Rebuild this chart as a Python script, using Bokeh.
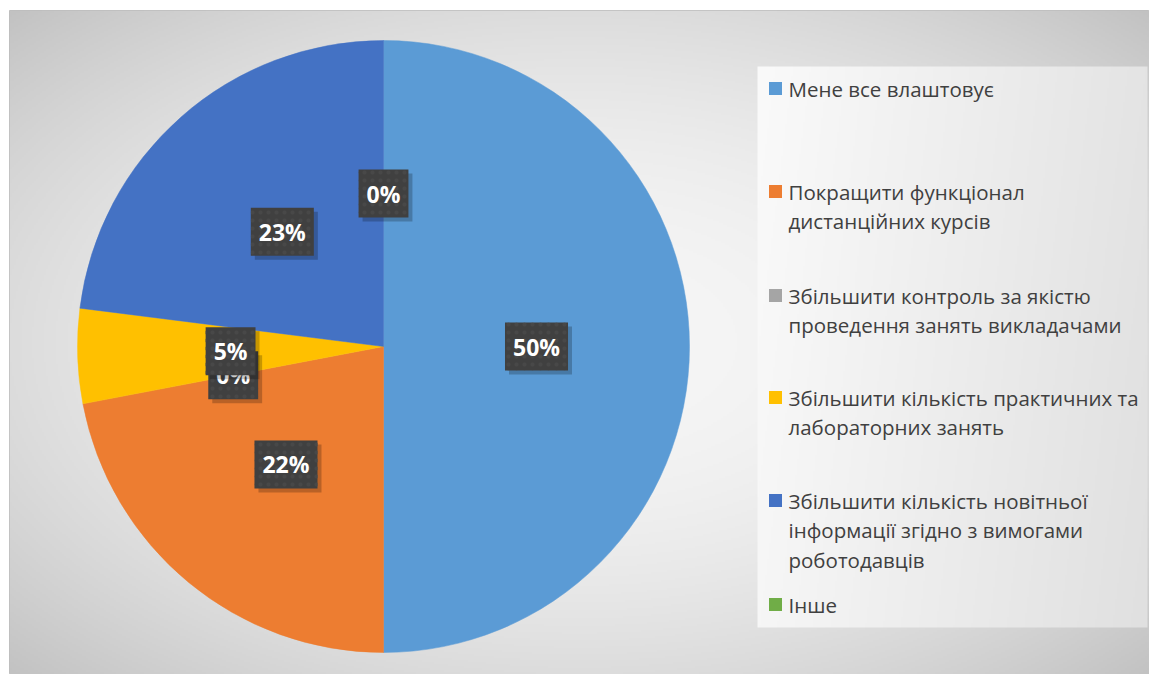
import numpy as np
from bokeh.plotting import figure
from bokeh.models import Range1d, ColumnDataSource
from bokeh.core.properties import value
from bokeh.embed import file_html
from bokeh.resources import INLINE

# ---------------- data ----------------
categories = [
    "Мене все влаштовує",
    "Покращити функціонал дистанційних курсів",
    "Збільшити контроль за якістю проведення занять викладачами",
    "Збільшити кількість практичних та лабораторних занять",
    "Збільшити кількість новітньої інформації згідно з вимогами роботодавців",
    "Інше",
]
legend_lines = [
    ["Мене все влаштовує"],
    ["Покращити функціонал", "дистанційних курсів"],
    ["Збільшити контроль за якістю", "проведення занять викладачами"],
    ["Збільшити кількість практичних та", "лабораторних занять"],
    ["Збільшити кількість новітньої", "інформації згідно з вимогами", "роботодавців"],
    ["Інше"],
]
values = [50, 22, 0, 5, 23, 0]
colors = ["#5B9BD5", "#ED7D31", "#A5A5A5", "#FFC000", "#4472C4", "#70AD47"]

# ---------------- layout (pixel units) ----------------
W, H = 1149, 674
LEFT, TOP = 9, 10
FW, FH = W - LEFT, H - TOP
CX, CY, R = 383 - LEFT, H - 346, 306
LEG_X_MARK, LEG_X_TEXT = 775 - LEFT, 788 - LEFT
LEG_FIRST_SY = [88, 191, 295, 397, 500, 604]   # screen y of first line of each entry
LINE_STEP = 29.5
FONT = "Open Sans"

p = figure(width=W, height=H, output_backend="svg", toolbar_location=None,
           x_range=Range1d(0, FW), y_range=Range1d(0, FH),
           min_border_left=LEFT, min_border_top=TOP, min_border_right=0,
           min_border_bottom=0, match_aspect=False)
p.axis.visible = False
p.grid.visible = False
p.outline_line_color = "#bdbdbd"
p.background_fill_color = "#d8d8d8"
p.border_fill_color = "white"

# background radial gradient (decoration)
gh, gw = FH // 2, FW // 2
yy, xx = np.mgrid[0:gh, 0:gw]
fx = (xx + 0.5) * 2.0
fy = FH - (yy + 0.5) * 2.0
d2 = (((fx - FW / 2) / (FW / 2)) ** 2 + ((fy - FH / 2) / (FH / 2)) ** 2) / 2.0
g = np.clip(246 - 52 * d2, 185, 250).astype(np.uint32)
bg = (255 << 24) | (g << 16) | (g << 8) | g
p.image_rgba(image=[bg.astype(np.uint32)], x=0, y=0, dw=FW, dh=FH)

# legend box gradient
lx0, lx1 = 757 - LEFT, FW - 2
ly0, ly1 = H - 627, H - 66
lw, lh = (lx1 - lx0) // 2, (ly1 - ly0) // 2
yy2, xx2 = np.mgrid[0:lh, 0:lw]
t = xx2 / lw * 0.85 + (1 - yy2 / lh) * 0.15
g2 = np.clip(250 - 26 * t, 200, 255).astype(np.uint32)
lg = (255 << 24) | (g2 << 16) | (g2 << 8) | g2
p.image_rgba(image=[lg.astype(np.uint32)], x=lx0, y=ly0, dw=lx1 - lx0, dh=ly1 - ly0)

# ---------------- pie ----------------
vals = np.array(values, dtype=float)
frac = vals / vals.sum()
cum = np.concatenate([[0], np.cumsum(frac)])
start = np.pi / 2 - 2 * np.pi * cum[:-1]
end = np.pi / 2 - 2 * np.pi * cum[1:]
nz = vals > 0
src = ColumnDataSource(dict(start=start[nz], end=end[nz],
                            color=[c for c, k in zip(colors, nz) if k],
                            cat=[c for c, k in zip(categories, nz) if k]))
p.wedge(x=CX, y=CY, radius=R, start_angle="start", end_angle="end",
        direction="clock", fill_color="color", line_color="color", line_width=0.5,
        source=src)

# data labels at half radius on mid angle
mid = (start + end) / 2
lab_x = CX + 0.5 * R * np.cos(mid)
lab_y = CY + 0.5 * R * np.sin(mid)
lab_txt = [f"{v:.0f}%" for v in frac * 100]
for i in range(len(values)):
    one = ColumnDataSource(dict(x=[lab_x[i]], y=[lab_y[i]], t=[lab_txt[i]]))
    # shadow
    p.text(x="x", y="y", text="t", source=one, x_offset=4, y_offset=4,
           text_font=value(FONT), text_font_style="bold", text_font_size="23px",
           text_align="center", text_baseline="middle", text_alpha=0,
           background_fill_color="black", background_fill_alpha=0.22,
           padding=(8, 8))
    p.text(x="x", y="y", text="t", source=one,
           text_font=value(FONT), text_font_style="bold", text_font_size="23px",
           text_color="white", text_align="center", text_baseline="middle",
           background_fill_color="#404040", background_hatch_pattern=".",
           background_hatch_color="#484848", background_hatch_scale=8,
           padding=(8, 8))

# ---------------- legend ----------------
mx, my, mc = [], [], []
tx, ty, tt = [], [], []
for i, lines in enumerate(legend_lines):
    y0 = H - LEG_FIRST_SY[i]
    mx.append(LEG_X_MARK)
    my.append(y0)
    mc.append(colors[i])
    for j, ln in enumerate(lines):
        tx.append(LEG_X_TEXT)
        ty.append(y0 - j * LINE_STEP)
        tt.append(ln)
p.scatter(x=mx, y=my, marker="square", size=13, fill_color=mc, line_color=None)
p.text(x=tx, y=ty, text=tt, text_font=value(FONT), text_font_size="20.5px",
       text_color="#404040", text_align="left", text_baseline="middle")

open("out.html", "w").write(file_html(p, INLINE))
